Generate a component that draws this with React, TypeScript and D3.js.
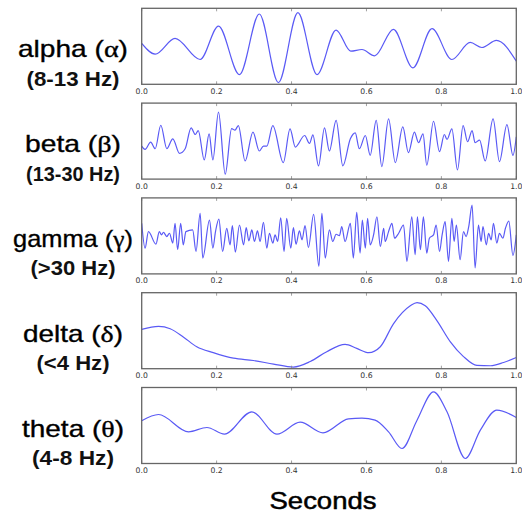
import React from 'react';
import * as d3 from 'd3';

// band names, greek symbols and frequency ranges (top to bottom)
const bandNames = ['alpha', 'beta', 'gamma', 'delta', 'theta'];
const bandSymbols = ['α', 'β', 'γ', 'δ', 'θ'];
const bandRanges = ['(8-13 Hz)', '(13-30 Hz)', '(>30 Hz)', '(<4 Hz)', '(4-8 Hz)'];
const timeTicks = [0, 0.2, 0.4, 0.6, 0.8, 1.0];

// [seconds, amplitude] (amplitude scaled to the panel, -1..1)
const alphaWave = [
  [0, 0.075], [0.036, -0.207], [0.089, 0.207], [0.156, -0.348], [0.205, 0.533],
  [0.261, -0.744], [0.314, 0.85], [0.365, -0.956], [0.417, 0.885], [0.468, -0.744],
  [0.519, 0.427], [0.558, -0.128], [0.588, -0.084], [0.622, -0.251], [0.672, 0.445],
  [0.724, -0.568], [0.775, 0.463], [0.828, -0.348], [0.877, 0.101], [0.908, -0.031],
  [0.947, 0.154], [1, -0.392],
];

const betaWave = [
  [0, -0.13], [0.009, -0.217], [0.024, -0.026], [0.036, -0.2], [0.051, 0.417],
  [0.067, -0.2], [0.083, 0.061], [0.101, -0.322], [0.116, -0.2], [0.132, 0.348],
  [0.143, 0.174], [0.151, 0.278], [0.167, -0.496], [0.18, 0.191], [0.19, -0.496],
  [0.205, 0.765], [0.223, -0.87], [0.24, 0.33], [0.249, 0.287], [0.258, 0.409],
  [0.276, -0.522], [0.297, 0.235], [0.314, -0.261], [0.325, -0.13], [0.334, -0.13],
  [0.35, 0.409], [0.378, -0.565], [0.396, 0.322], [0.41, -0.157], [0.435, 0.148],
  [0.448, -0.061], [0.457, 0.165], [0.472, -0.652], [0.488, 0.348], [0.501, -0.261],
  [0.519, 0.548], [0.537, -0.652], [0.557, 0.061], [0.57, 0.217], [0.581, -0.2],
  [0.597, 0.148], [0.61, -0.374], [0.626, 0.548], [0.641, -0.67], [0.659, 0.583],
  [0.677, -0.565], [0.697, 0.374], [0.712, -0.304], [0.728, 0.235], [0.739, -0.043],
  [0.751, 0.191], [0.761, -0.635], [0.779, 0.522], [0.795, -0.278], [0.808, 0.174],
  [0.815, 0.043], [0.828, 0.322], [0.843, -0.757], [0.858, 0.409], [0.87, -0.017],
  [0.882, 0.278], [0.89, -0.043], [0.902, 0.026], [0.917, -0.522], [0.938, 0.583],
  [0.955, -0.539], [0.975, 0.435], [0.991, -0.374], [1, 0.113],
];

const gammaWave = [
  [0, 0.33], [0.009, -0.322], [0.018, 0.113], [0.038, -0.217], [0.047, 0.113],
  [0.053, 0.026], [0.058, 0.096], [0.067, -0.017], [0.074, 0.07], [0.083, -0.191],
  [0.089, 0.33], [0.096, -0.365], [0.104, 0.33], [0.111, -0.235], [0.118, 0.113],
  [0.136, 0.157], [0.145, -0.409], [0.156, 0.591], [0.163, -0.583], [0.181, 0.417],
  [0.19, -0.322], [0.197, 0.113], [0.206, 0.443], [0.216, -0.409], [0.227, 0.2],
  [0.236, -0.235], [0.242, 0.27], [0.25, -0.426], [0.261, 0.287], [0.272, -0.235],
  [0.279, 0.217], [0.286, -0.13], [0.294, 0.157], [0.301, -0.148], [0.309, 0.13],
  [0.316, -0.148], [0.325, 0.357], [0.334, -0.322], [0.341, 0.07], [0.35, -0.191],
  [0.356, 0.026], [0.363, -0.148], [0.371, 0.478], [0.38, -0.409], [0.387, 0.461],
  [0.398, -0.322], [0.405, 0.217], [0.412, -0.217], [0.421, 0.13], [0.428, -0.104],
  [0.436, 0.27], [0.445, -0.304], [0.459, 0.565], [0.473, -0.8], [0.481, 0.591],
  [0.49, -0.583], [0.501, 0.157], [0.51, -0.148], [0.519, 0.043], [0.528, 0.009],
  [0.534, 0.243], [0.543, -0.148], [0.557, 0.33], [0.565, -0.583], [0.574, 0.617],
  [0.583, -0.452], [0.589, 0.417], [0.597, -0.322], [0.603, 0.461], [0.61, -0.235],
  [0.619, 0.026], [0.628, 0.504], [0.637, -0.278], [0.646, 0.2], [0.65, -0.148],
  [0.659, 0.113], [0.668, 0.33], [0.675, -0.061], [0.686, 0.07], [0.699, 0.287],
  [0.708, -0.67], [0.721, 0.504], [0.73, -0.496], [0.736, 0.504], [0.744, -0.365],
  [0.752, 0.504], [0.761, -0.452], [0.768, -0.061], [0.779, 0.026], [0.786, 0.287],
  [0.795, -0.409], [0.802, 0.026], [0.81, 0.374], [0.819, -0.67], [0.828, 0.461],
  [0.834, -0.148], [0.84, 0.287], [0.85, -0.626], [0.859, 0.113], [0.866, -0.017],
  [0.873, 0.243], [0.882, 0.809], [0.89, -0.843], [0.899, 0.287], [0.906, -0.148],
  [0.911, 0.243], [0.92, -0.235], [0.926, 0.07], [0.933, -0.104], [0.939, 0.33],
  [0.948, -0.191], [0.955, 0.07], [0.964, -0.061], [0.971, 0.2], [0.98, 0.391],
  [0.991, -0.513], [1, 0.026],
];

const deltaWave = [
  [0, 0.034], [0.045, 0.112], [0.076, 0.052], [0.111, -0.164], [0.147, -0.422],
  [0.191, -0.578], [0.245, -0.724], [0.298, -0.784], [0.352, -0.879], [0.405, -0.957],
  [0.45, -0.81], [0.494, -0.552], [0.543, -0.362], [0.574, -0.466], [0.606, -0.578],
  [0.637, -0.422], [0.672, 0.181], [0.717, 0.655], [0.735, 0.741], [0.757, 0.655],
  [0.788, 0.267], [0.824, -0.293], [0.859, -0.681], [0.895, -0.914], [0.931, -0.922],
  [0.966, -0.836], [1, -0.707],
];

const thetaWave = [
  [0, 0.123], [0.045, 0.289], [0.125, -0.167], [0.174, -0.053], [0.221, -0.228],
  [0.294, 0.36], [0.361, -0.228], [0.423, 0.088], [0.484, -0.193], [0.552, 0.175],
  [0.588, 0.193], [0.623, 0.14], [0.659, -0.167], [0.695, -0.605], [0.735, 0.14],
  [0.779, 0.886], [0.815, 0.36], [0.864, -0.868], [0.904, -0.123], [0.948, 0.404],
  [1, 0.211],
];

const waves = [alphaWave, betaWave, gammaWave, deltaWave, thetaWave];

// layout
const W = 522;
const H = 514;
const plotLeft = 141.7;
const plotRight = 516.3;
const firstTop = 8.3;
const panelH = 76;
const panelStep = 94.8;
const labelX = 73;
const nameWidths = [110, 96, 120, 100, 102];
const rangeWidths = [93, 94, 85, 73, 82];

const x = d3.scaleLinear().domain([0, 1]).range([plotLeft, plotRight]);
const fmt = d3.format('.1f');

const Panel = ({ i }: { i: number }) => {
  const top = firstTop + i * panelStep;
  const bottom = top + panelH;
  const y = d3.scaleLinear().domain([-1, 1]).range([bottom, top]);
  const line = d3.line<number[]>()
    .x(d => x(d[0]))
    .y(d => y(d[1]))
    .curve(d3.curveMonotoneX);
  const mid = (top + bottom) / 2;

  return (
    <g>
      {/* band label */}
      <text
        x={labelX}
        y={mid + 11}
        textAnchor="middle"
        fontFamily="'Liberation Sans', Arial, sans-serif"
        fontSize={24}
        fill="#000"
        stroke="#000"
        strokeWidth={0.35}
        textLength={nameWidths[i]}
        lengthAdjust="spacingAndGlyphs"
      >
        {bandNames[i]} (<tspan fontFamily="'Liberation Serif', 'DejaVu Serif', serif">{bandSymbols[i]}</tspan>)
      </text>
      <text
        x={labelX}
        y={mid + 39.5}
        textAnchor="middle"
        fontFamily="'Liberation Sans', Arial, sans-serif"
        fontWeight="bold"
        fontSize={21}
        fill="#111"
        textLength={rangeWidths[i]}
        lengthAdjust="spacingAndGlyphs"
      >
        {bandRanges[i]}
      </text>

      {/* trace */}
      <path d={line(waves[i]) || ''} fill="none" stroke="#5a5af5" strokeWidth={1.2} />

      {/* ticks */}
      {timeTicks.map(t => (
        <g key={t}>
          <line x1={x(t)} x2={x(t)} y1={bottom} y2={bottom - 3} stroke="#888" strokeWidth={0.8} />
          <line x1={x(t)} x2={x(t)} y1={top} y2={top + 3} stroke="#888" strokeWidth={0.8} />
          <text
            x={x(t)}
            y={bottom + 9.5}
            textAnchor="middle"
            fontFamily="'DejaVu Sans', sans-serif"
            fontSize={7.7}
            fill="#333"
          >
            {fmt(t)}
          </text>
        </g>
      ))}

      {/* frame */}
      <rect x={plotLeft} y={top} width={plotRight - plotLeft} height={panelH} fill="none" stroke="#666" strokeWidth={1.3} />
    </g>
  );
};

export default function App() {
  return (
    <svg
      width={W}
      height={H}
      style={{ position: 'absolute', left: 0, top: 0, background: '#fff' }}
    >
      {waves.map((_, i) => <Panel key={i} i={i} />)}
      <text
        x={323}
        y={509}
        textAnchor="middle"
        fontFamily="'Liberation Sans', Arial, sans-serif"
        fontSize={24}
        fill="#000"
        stroke="#000"
        strokeWidth={0.5}
        textLength={107}
        lengthAdjust="spacingAndGlyphs"
      >
        Seconds
      </text>
    </svg>
  );
}
